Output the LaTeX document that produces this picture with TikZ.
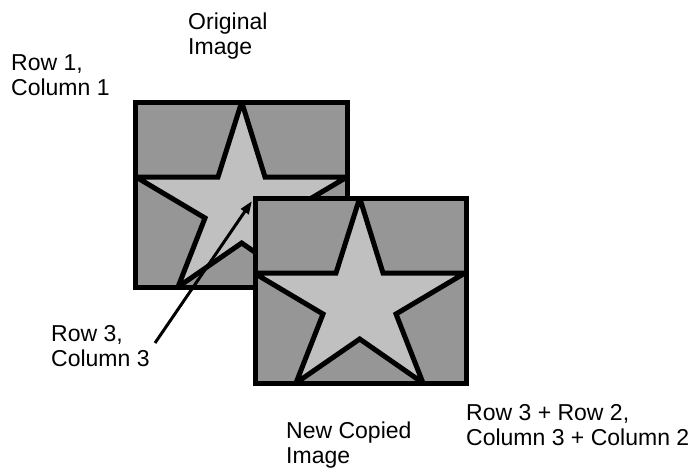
\documentclass[tikz,border=0pt]{standalone}
\usepackage{fontspec}
\setmainfont{Liberation Sans}
\usetikzlibrary{arrows.meta}
\definecolor{boxgray}{RGB}{150,150,150}
\definecolor{stargray}{RGB}{192,192,192}
\tikzset{
  imgfill/.style={fill=boxgray},
  imgframe/.style={draw=black,line width=5pt,line join=miter},
  starshape/.style={fill=stargray,draw=black,line width=5pt,line join=miter,miter limit=10},
  lbl/.style={anchor=base west,inner sep=0pt,align=left,font=\fontsize{23}{25}\selectfont},
  pointer/.style={line width=3pt,-{Triangle[length=13pt,width=9pt]}}
}
\newcommand{\starpath}{(241.7,102) -- (265,177) -- (347,177) -- (278,218) -- (305,287)
  -- (241.7,243) -- (178,287) -- (205,218) -- (136,177) -- (218,177) -- cycle}
\begin{document}
\begin{tikzpicture}[x=1pt,y=-1pt]
\useasboundingbox (0,0) rectangle (699,474);
% original image
\path[imgfill] (135.5,102) rectangle (347.5,287.5);
\begin{scope}
\clip (135.5,102) rectangle (347.5,287.5);
\path[starshape] \starpath;
\end{scope}
\path[imgframe] (135.5,102) rectangle (347.5,287.5);
% pointer
\coordinate (ps) at (155,343);
\coordinate (pe) at (252,201);
\draw[pointer] (ps) -- (pe);
% new copied image
\path[imgfill] (255.5,198) rectangle (466,383);
\begin{scope}
\clip (255.5,198) rectangle (466,383);
\begin{scope}[shift={(118,96)}]
\path[starshape] \starpath;
\end{scope}
\end{scope}
\path[imgframe] (255.5,198) rectangle (466,383);
% labels
\node[lbl] (r11) at (11,95) {Row 1,\\Column 1};
\node[lbl] (orig) at (188,54) {Original\\Image};
\node[lbl] (r33) at (51,366) {Row 3,\\Column 3};
\node[lbl] (newc) at (286,463) {New Copied\\Image};
\node[lbl] (r32) at (466,445) {Row 3 + Row 2,\\Column 3 + Column 2};
\end{tikzpicture}
\end{document}
